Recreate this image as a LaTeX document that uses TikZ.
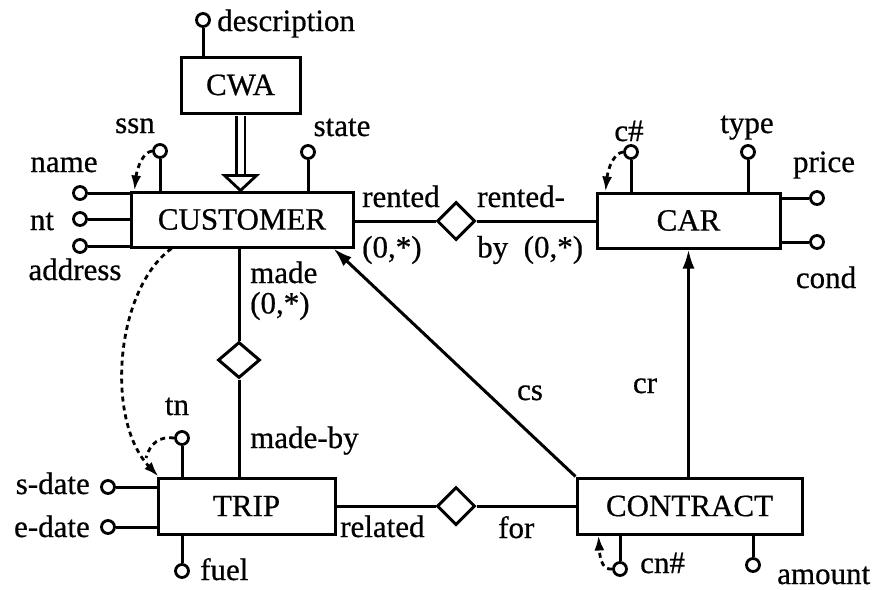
\documentclass[tikz,border=0pt]{standalone}
\usepackage{fontspec}
\setmainfont[FakeBold=0.6]{Liberation Serif}
\usetikzlibrary{shapes.geometric,arrows.meta,calc}
\begin{document}
\begin{tikzpicture}[x=1pt,y=-1pt,
  every node/.style={font=\fontsize{31}{36}\selectfont},
  ent/.style={draw,line width=3pt,rectangle,inner sep=0pt},
  rel/.style={draw,line width=3pt,diamond,inner sep=0pt,minimum width=38pt,minimum height=38pt},
  att/.style={draw,line width=2.8pt,circle,fill=white,inner sep=0pt,minimum size=13pt},
  lab/.style={inner sep=0pt},
  conn/.style={line width=3pt},
  dsh/.style={line width=2.8pt,dash pattern=on 5pt off 4pt,-{Latex[length=15pt,width=10pt]}},
  dshline/.style={line width=2.8pt,dash pattern=on 5pt off 4pt},
  arr/.style={line width=3pt,-{Latex[length=19pt,width=12pt]}}]
\useasboundingbox (0,0) rectangle (875,589);

% entities
\node[ent,minimum width=119pt,minimum height=56pt] (cwa) at (240.5,85) {CWA};
\node[ent,minimum width=222pt,minimum height=55pt] (cust) at (242,219.5) {CUSTOMER};
\node[ent,minimum width=183pt,minimum height=55pt] (car) at (688.5,220.5) {CAR};
\node[ent,minimum width=177pt,minimum height=56pt] (trip) at (246.5,506) {TRIP};
\node[ent,minimum width=225pt,minimum height=56pt] (contract) at (689.5,506) {CONTRACT};

% relationships
\node[rel] (rent) at (456,221) {};
\node[rel,minimum width=42pt,minimum height=36pt] (made) at (239,360) {};
\node[rel] (for) at (456,506) {};

% relationship lines
\draw[conn] (cust.east |- rent) -- (rent);
\draw[conn] (rent) -- (rent -| car.west);
\draw[conn] (cust.south -| made) -- (made);
\draw[conn] (made) -- (made |- trip.north);
\draw[conn] (trip.east |- for) -- (for);
\draw[conn] (for) -- (for -| contract.west);

% is-a double arrow
\coordinate (dtip) at (cwa.south |- cust.north);
\draw[line width=2.8pt,double,double distance=6pt] ($(cwa.south)+(0,1.5)$) -- ($(dtip)+(0,-15)$);
\draw[line width=2.8pt,fill=white,line join=miter] (dtip) -- ++(-16,-15) -- ++(32,0) -- cycle;

% references
\coordinate (csend) at ($(cust.south east)+(-21,0)$);
\draw[arr] (contract.north west) -- (csend);
\draw[arr] (contract.north -| car.south) -- (car.south);

% attribute circles
\node[att] (descc) at (203,20) {};
\node[att] (ssnc) at (160,151) {};
\node[att] (statec) at (308,152) {};
\node[att] (namec) at (80,193) {};
\node[att] (ntc) at (80,219) {};
\node[att] (addrc) at (80,246) {};
\node[att] (cnumc) at (631,152) {};
\node[att] (typec) at (748,152) {};
\node[att] (pricec) at (817,198) {};
\node[att] (condc) at (817,242) {};
\node[att] (tnc) at (182,438) {};
\node[att] (sdatec) at (108,487) {};
\node[att] (edatec) at (108,527) {};
\node[att] (fuelc) at (182,571) {};
\node[att] (cnc) at (620,569) {};
\node[att] (amountc) at (753,565) {};

\draw[conn] (descc) -- (descc |- cwa.north);
\draw[conn] (ssnc) -- (ssnc |- cust.north);
\draw[conn] (statec) -- (statec |- cust.north);
\draw[conn] (namec) -- (namec -| cust.west);
\draw[conn] (ntc) -- (ntc -| cust.west);
\draw[conn] (addrc) -- (addrc -| cust.west);
\draw[conn] (cnumc) -- (cnumc |- car.north);
\draw[conn] (typec) -- (typec |- car.north);
\draw[conn] (pricec) -- (pricec -| car.east);
\draw[conn] (condc) -- (condc -| car.east);
\draw[conn] (tnc) -- (tnc |- trip.north);
\draw[conn] (sdatec) -- (sdatec -| trip.west);
\draw[conn] (edatec) -- (edatec -| trip.west);
\draw[conn] (fuelc) -- (fuelc |- trip.south);
\draw[conn] (cnc) -- (cnc |- contract.south);
\draw[conn] (amountc) -- (amountc |- contract.south);

% key / dashed arrows
\draw[dsh] (ssnc.west) .. controls (143,152) and (137,168) .. ($(cust.north west)+(5,0)$);
\draw[dsh] (cnumc.west) .. controls (614,153) and (608,168) .. ($(car.north west)+(10,0)$);
\draw[dsh] ($(cust.south west)+(42,0)$) .. controls (115,290) and (105,420) .. ($(trip.north west)+(2,0)$);
\coordinate (tnjoin) at (146,458);
\draw[dshline] (tnc.west) .. controls (160,436) and (150,443) .. (tnjoin);
\draw[dsh] (cnc.west) .. controls (604,570) and (600,562) .. ($(contract.south west)+(23,0)$);

% labels
\node[lab,anchor=base west] (ldesc) at (217,31) {description};
\node[lab,anchor=base] (lssn) at (135,133) {ssn};
\node[lab,anchor=base] (lstate) at (342,136) {state};
\node[lab,anchor=base] (lname) at (64,172) {name};
\node[lab,anchor=base] (lnt) at (42,230) {nt};
\node[lab,anchor=base] (laddr) at (75,280) {address};
\node[lab,anchor=base west] (lrented) at (362,207) {rented};
\node[lab,anchor=west] (lrc1) at (362,250) {(0,*)};
\node[lab,anchor=base west] (lrentedby) at (477,207) {rented-};
\node[lab,anchor=west] (lrc2) at (477,250) {by\ \ (0,*)};
\node[lab,anchor=base] (lcnum) at (629,141) {c\#};
\node[lab,anchor=base] (ltype) at (747,133) {type};
\node[lab,anchor=base] (lprice) at (824,172) {price};
\node[lab,anchor=base] (lcond) at (826,288) {cond};
\node[lab,anchor=base west] (lmade) at (250,283) {made};
\node[lab,anchor=west] (lmc) at (250,306) {(0,*)};
\node[lab,anchor=base west] (lmadeby) at (250,448) {made-by};
\node[lab,anchor=base] (ltn) at (177,415) {tn};
\node[lab,anchor=base east] (lsdate) at (90,494) {s-date};
\node[lab,anchor=base east] (ledate) at (90,537) {e-date};
\node[lab,anchor=base west] (lfuel) at (200,580) {fuel};
\node[lab,anchor=base west] (lrelated) at (340,537) {related};
\node[lab,anchor=base west] (lfor) at (498,538) {for};
\node[lab,anchor=base west] (lcn) at (640,573) {cn\#};
\node[lab,anchor=base west] (lamount) at (777,584) {amount};
\node[lab,anchor=base] (lcs) at (530,400) {cs};
\node[lab,anchor=base] (lcr) at (645,393) {cr};
\end{tikzpicture}
\end{document}
